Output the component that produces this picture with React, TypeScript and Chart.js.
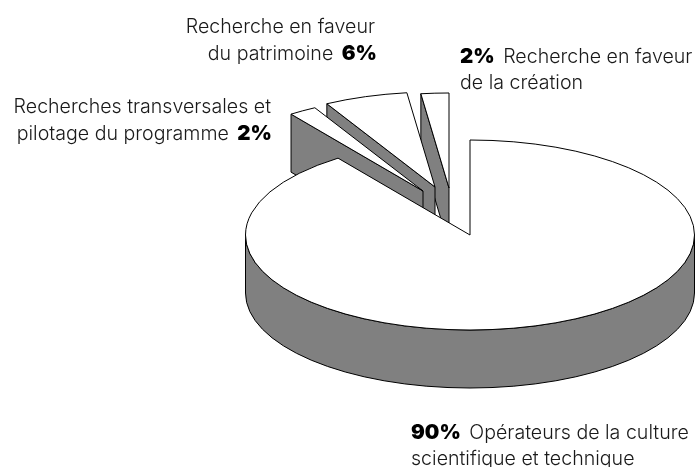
import React, { useEffect, useRef } from "react";
import { Chart, registerables } from "chart.js";

Chart.register(...registerables);

// Data
const categories = [
  "Opérateurs de la culture scientifique et technique",
  "Recherches transversales et pilotage du programme",
  "Recherche en faveur du patrimoine",
  "Recherche en faveur de la création",
];
const shares = [90, 2, 6, 2];

// Label runs: text + bold flag per line
type Run = { t: string; b?: boolean };
const labelLines: { align: "left" | "right"; x: number; y: number; runs: Run[] }[] = [
  { align: "right", x: 375, y: 33, runs: [{ t: "Recherche en faveur" }] },
  { align: "right", x: 377, y: 60, runs: [{ t: "du patrimoine " }, { t: "6%", b: true }] },
  { align: "right", x: 271, y: 113, runs: [{ t: "Recherches transversales et" }] },
  { align: "right", x: 272, y: 140, runs: [{ t: "pilotage du programme " }, { t: "2%", b: true }] },
  { align: "left", x: 460, y: 63, runs: [{ t: "2%", b: true }, { t: " Recherche en faveur" }] },
  { align: "left", x: 460, y: 89, runs: [{ t: "de la création" }] },
  { align: "left", x: 411, y: 439, runs: [{ t: "90%", b: true }, { t: " Opérateurs de la culture" }] },
  { align: "left", x: 411, y: 465, runs: [{ t: "scientifique et technique" }] },
];

// Look of the 3D projection
const RX = 224.5;
const RY = 95;
const DEPTH = 58;
const TIP = { x: 470, y: 235 };
const sliceShift = [
  [0, 0],
  [-47, -44],
  [-35, -48],
  [-21, -47],
];
const drawOrder = [3, 2, 1, 0];
const GREY = "#808080";
const FONT_REG = '300 19.6px "Inter", sans-serif';
const FONT_BOLD = '900 20.5px "Inter", sans-serif';
const RUN_GAP = 3;

const pie3d = {
  id: "pie3d",
  beforeDatasetsDraw(chart: any) {
    const ctx: CanvasRenderingContext2D = chart.ctx;
    const arcs = chart.getDatasetMeta(0).data;
    for (const i of drawOrder) {
      const el = arcs[i];
      const [sx, sy] = sliceShift[i];
      const ox = TIP.x + sx;
      const oy = TIP.y + sy;
      const start = el.startAngle;
      const end = el.endAngle;
      const px = (a: number) => ox + RX * Math.cos(a);
      const py = (a: number) => oy + RY * Math.sin(a);

      ctx.save();
      ctx.lineWidth = 1;
      ctx.strokeStyle = "#000";
      ctx.lineJoin = "round";

      // side walls
      ctx.fillStyle = GREY;
      if (i === 0) {
        ctx.beginPath();
        ctx.ellipse(ox, oy, RX, RY, 0, 0, Math.PI, false);
        ctx.lineTo(ox - RX, oy + DEPTH);
        ctx.ellipse(ox, oy + DEPTH, RX, RY, 0, Math.PI, 0, true);
        ctx.closePath();
        ctx.fill();
        ctx.stroke();
      } else {
        ctx.beginPath();
        ctx.moveTo(px(start), py(start));
        ctx.lineTo(ox, oy);
        ctx.lineTo(ox, oy + DEPTH);
        ctx.lineTo(px(start), py(start) + DEPTH);
        ctx.closePath();
        ctx.fill();
        ctx.stroke();
      }

      // top face, drawn by the library's own arc element
      ctx.save();
      ctx.translate(ox, oy);
      ctx.scale(RX / el.outerRadius, RY / el.outerRadius);
      ctx.translate(-el.x, -el.y);
      el.draw(ctx);
      ctx.restore();

      ctx.beginPath();
      ctx.moveTo(ox, oy);
      ctx.ellipse(ox, oy, RX, RY, 0, start, end, false);
      ctx.closePath();
      ctx.stroke();
      ctx.restore();
    }

    // labels
    ctx.save();
    ctx.textBaseline = "alphabetic";
    ctx.textAlign = "left";
    for (const line of labelLines) {
      const widths = line.runs.map((r) => {
        ctx.font = r.b ? FONT_BOLD : FONT_REG;
        return ctx.measureText(r.t).width;
      });
      const gaps = (line.runs.length - 1) * RUN_GAP;
      const total = widths.reduce((a, b) => a + b, 0) + gaps;
      let x = line.align === "right" ? line.x - total : line.x;
      line.runs.forEach((r, k) => {
        ctx.font = r.b ? FONT_BOLD : FONT_REG;
        ctx.fillStyle = r.b ? "#000" : "#1a1a1a";
        ctx.fillText(r.t, x, line.y);
        x += widths[k] + RUN_GAP;
      });
    }
    ctx.restore();
    return false;
  },
};

export default function App() {
  const ref = useRef<HTMLCanvasElement>(null);
  useEffect(() => {
    const chart = new Chart(ref.current!, {
      type: "pie",
      data: {
        labels: categories,
        datasets: [
          { data: shares, backgroundColor: "#ffffff", borderWidth: 0 },
        ],
      },
      options: {
        animation: false,
        responsive: false,
        layout: { padding: 0 },
        plugins: { legend: { display: false }, tooltip: { enabled: false } },
      },
      plugins: [pie3d],
    } as any);
    return () => chart.destroy();
  }, []);
  return (
    <div style={{ position: "absolute", left: 0, top: 0, width: 695, height: 467, background: "#fff" }}>
      <canvas ref={ref} width={695} height={467} style={{ display: "block" }} />
    </div>
  );
}
